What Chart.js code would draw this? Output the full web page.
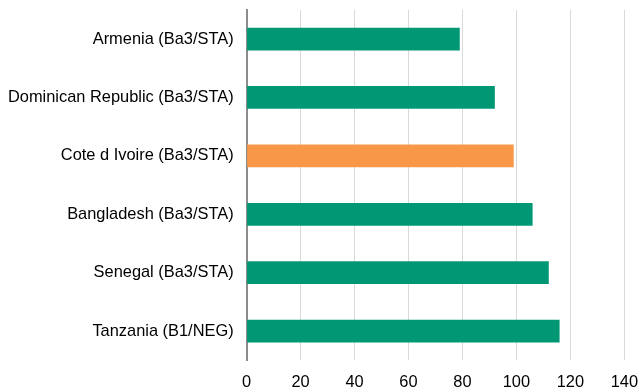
<!DOCTYPE html>
<html>
<head>
<meta charset="utf-8">
<script src="https://cdn.jsdelivr.net/npm/chart.js@4"></script>
<style>
  html, body { margin: 0; padding: 0; background: #ffffff; }
  #wrap { width: 638px; height: 392px; }
</style>
</head>
<body>
<div id="wrap"><canvas id="chart" width="638" height="392"></canvas></div>
<script>
// Countries with their rating / outlook
const categories = [
  'Armenia (Ba3/STA)',
  'Dominican Republic (Ba3/STA)',
  'Cote d Ivoire (Ba3/STA)',
  'Bangladesh (Ba3/STA)',
  'Senegal (Ba3/STA)',
  'Tanzania (B1/NEG)'
];
const values = [79, 92, 99, 106, 112, 116];
const highlighted = 'Cote d Ivoire (Ba3/STA)';
const xTicks = [0, 20, 40, 60, 80, 100, 120, 140];

const GREEN = '#009874';
const ORANGE = '#F79747';
const barColors = categories.map(c => c === highlighted ? ORANGE : GREEN);
const FONT = { family: 'Liberation Sans, Arial, sans-serif', size: 16.4 };

new Chart(document.getElementById('chart'), {
  type: 'bar',
  data: {
    labels: categories,
    datasets: [{
      data: values,
      backgroundColor: barColors,
      borderWidth: 0,
      barPercentage: 0.39,
      categoryPercentage: 1.0
    }]
  },
  options: {
    indexAxis: 'y',
    responsive: false,
    animation: false,
    layout: { padding: { top: 1, right: 0, bottom: 0, left: 8 } },
    plugins: { legend: { display: false }, tooltip: { enabled: false } },
    scales: {
      x: {
        min: xTicks[0],
        max: xTicks[xTicks.length - 1],
        afterBuildTicks: axis => { axis.ticks = xTicks.map(v => ({ value: v })); },
        // invisible tick marks keep the gap between the plot and the labels
        grid: { color: '#d9d9d9', lineWidth: 1, drawTicks: true, tickLength: 12, tickColor: 'rgba(0,0,0,0)' },
        border: { display: false },
        ticks: { color: '#000000', padding: 0, font: FONT }
      },
      y: {
        grid: { display: true, drawOnChartArea: false, drawTicks: true, tickLength: 13, tickColor: 'rgba(0,0,0,0)' },
        border: { display: true, color: '#8c8c8c', width: 2 },
        ticks: { color: '#000000', padding: 0, font: FONT }
      }
    }
  }
});
</script>
</body>
</html>
